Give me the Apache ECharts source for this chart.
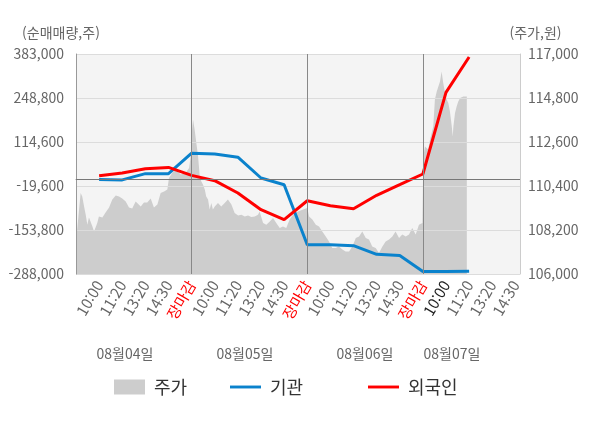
<!DOCTYPE html>
<html lang="ko">
<head>
<meta charset="utf-8">
<title>순매매량 / 주가</title>
<style>
  *{padding:0;margin:0;}
  html,body,#chart{width:600px;height:428px;background:#fff;}
</style>
</head>
<body>
<div id="chart"></div>
<script src="https://cdn.jsdelivr.net/npm/echarts@6/dist/echarts.min.js"></script>
<script>
// x축 슬롯 라벨 (슬롯 0 = 장시작)
var xLabels = ['', '10:00', '11:20', '13:20', '14:30', '장마감',
  '10:00', '11:20', '13:20', '14:30', '장마감',
  '10:00', '11:20', '13:20', '14:30', '장마감',
  '10:00', '11:20', '13:20', '14:30'];
var dayLabels = ['08월04일', '08월05일', '08월06일', '08월07일'];
var seriesNames = ['주가', '기관', '외국인'];
var closeSlots = [5, 10, 15];
var prevClose = 110750;

// 기관 / 외국인 누적 순매매량 (슬롯 1부터)
var institution = [0, -1000, 18000, 18000, 80500, 78000, 68200, 4800, -15600,
  -198600, -198500, -201700, -228000, -231300, -280500, -280500, -279500];
var foreign = [11800, 20000, 33200, 37100, 12700, -3400, -41000, -92000, -122400,
  -64500, -79700, -88800, -48000, -15600, 17000, 266000, 373900];

// 주가 (슬롯 위치, 가격)
var priceTime = [0, 0.06, 0.13, 0.20, 0.27, 0.35, 0.42, 0.49, 0.56, 0.63, 0.71, 0.78, 0.85, 0.92, 0.99,
  1.14, 1.28, 1.43, 1.57, 1.72, 1.86, 2.00, 2.15, 2.29, 2.43, 2.58, 2.65, 2.80, 2.94,
  3.08, 3.23, 3.37, 3.52, 3.66, 3.81, 3.95, 4.02, 4.16, 4.31, 4.53, 4.74, 4.89, 4.96,
  5.02, 5.06, 5.13, 5.20, 5.28, 5.35, 5.42, 5.49, 5.57, 5.63, 5.71, 5.78, 5.85, 5.92,
  6.00, 6.14, 6.28, 6.43, 6.57, 6.72, 6.86, 7.01, 7.15, 7.30, 7.44, 7.58, 7.73, 7.87, 7.94,
  8.09, 8.23, 8.38, 8.52, 8.66, 8.81, 8.95, 9.09, 9.24, 9.38, 9.60, 9.82,
  10.00, 10.08, 10.22, 10.37, 10.51, 10.65, 10.80, 10.94, 11.08, 11.23, 11.37, 11.52, 11.66, 11.81, 11.95,
  12.10, 12.24, 12.38, 12.53, 12.67, 12.81, 12.96, 13.10, 13.25, 13.39, 13.54, 13.68, 13.82, 13.97,
  14.11, 14.26, 14.40, 14.54, 14.69, 14.83, 14.98,
  15.02, 15.09, 15.17, 15.23, 15.31, 15.38, 15.45, 15.52, 15.60, 15.67, 15.74, 15.81, 15.88, 15.96,
  16.03, 16.10, 16.17, 16.25, 16.29, 16.32, 16.39, 16.46, 16.53, 16.61, 16.75, 16.90];
var priceValue = [107680, 108320, 108220, 110050, 109880, 109380, 108960, 108460, 108820, 108720, 108380, 108130, 108080, 108550, 108880,
  108820, 109070, 109320, 109720, 109920, 109880, 109770, 109630, 109320, 109270, 109630, 109720, 109380, 109580,
  109570, 109770, 109320, 109470, 110050, 110130, 110220, 110800, 111050, 111220, 110970, 111050, 111300, 111880,
  113220, 113720, 113220, 112570, 111880, 110880, 110630, 110470, 110220, 109880, 109720, 109220, 109550, 109220,
  109380, 109550, 109380, 109550, 109720, 109470, 109050, 108920, 108960, 108880, 108920, 108850, 108880, 108960, 109130,
  108550, 108460, 108630, 108800, 108550, 108300, 108380, 108300, 108720, 108960, 109130, 109220,
  109300, 108880, 108720, 108460, 108380, 108130, 107880, 107630, 107300, 107300, 107380, 107220, 107130, 107130, 107380,
  107800, 107880, 108130, 107800, 107720, 107380, 107300, 107050, 107380, 107630, 107720, 107880, 108130, 107800,
  107970, 107880, 107970, 108300, 107970, 108460, 108550,
  111880, 112380, 112470, 112220, 112720, 113050, 113380, 114720, 115130, 115220, 115630, 116130, 115550, 115050,
  114720, 114550, 114130, 113380, 112880, 113380, 114050, 114380, 114630, 114800, 114880, 114880];

var myChart = echarts.init(document.getElementById('chart'));
var FONT = 'Noto Sans CJK KR';
var LINE_ICON = 'path://M0,0H32V3H0Z';

var toPairs = function (vals, start) {
    return vals.map(function (v, i) { return [i + start, v]; });
};
var priceData = priceTime.map(function (t, i) { return [t, priceValue[i]]; });

var markData = closeSlots.map(function (s) {
    return { xAxis: s, lineStyle: { color: '#888', width: 1, type: 'solid' } };
});
markData.push({ yAxis: prevClose, lineStyle: { color: '#777', width: 1, type: 'solid' } });

var dayX = [125, 245, 365, 452];
var legendLeft = [109, 225, 363];
var legendIcons = ['rect', LINE_ICON, LINE_ICON];

var option = {
    animation: false,
    textStyle: { fontFamily: FONT },
    grid: {
        left: 76, right: 80, top: 54, bottom: 154,
        show: true, backgroundColor: '#f4f4f4', borderWidth: 0
    },
    legend: seriesNames.map(function (n, i) {
        return {
            left: legendLeft[i], top: 373,
            itemWidth: 31, itemHeight: 15,
            symbolKeepAspect: true,
            textStyle: { fontSize: 18, color: '#333', fontFamily: FONT, padding: [0, 0, 0, 4] },
            data: [{ name: n, icon: legendIcons[i] }]
        };
    }),
    xAxis: {
        type: 'value', min: 0, max: 19.2, interval: 1,
        axisLine: { lineStyle: { color: '#999' } },
        axisTick: { show: false },
        splitLine: { show: false },
        axisLabel: {
            rotate: 60, fontSize: 15, margin: 8, fontFamily: FONT,
            showMaxLabel: false,
            formatter: function (v) {
                return Number.isInteger(v) && xLabels[v] ? xLabels[v] : '';
            },
            color: function (v) {
                var s = xLabels[Math.round(v)];
                if (s === '장마감') return '#ff0000';
                if (Math.round(v) === 16) return '#222';
                return '#666';
            }
        }
    },
    yAxis: [{
        type: 'value', position: 'left', z: 3,
        min: -288000, max: 383000, interval: 134200,
        name: '(순매매량,주)', nameGap: 14,
        nameTextStyle: { color: '#666', fontSize: 14, fontFamily: FONT, padding: [0, 30, 0, 0] },
        axisLine: { show: true, lineStyle: { color: '#999' } },
        axisTick: { show: false },
        splitLine: { lineStyle: { color: '#dcdcdc' } },
        axisLabel: {
            color: '#666', fontSize: 14, margin: 12, fontFamily: FONT,
            formatter: function (v) { return echarts.format.addCommas(v); }
        }
    }, {
        type: 'value', position: 'right', z: 3,
        min: 106000, max: 117000, interval: 2200,
        name: '(주가,원)', nameGap: 14,
        nameTextStyle: { color: '#666', fontSize: 14, fontFamily: FONT, padding: [0, 0, 0, 31] },
        axisLine: { show: true, lineStyle: { color: '#ccc' } },
        axisTick: { show: false },
        splitLine: { show: false },
        axisLabel: {
            color: '#666', fontSize: 14, margin: 8, fontFamily: FONT,
            formatter: function (v) { return echarts.format.addCommas(v); }
        }
    }],
    graphic: dayLabels.map(function (t, i) {
        return {
            type: 'text', x: dayX[i], y: 354,
            style: {
                text: t, fill: '#666', fontSize: 14, fontFamily: FONT,
                textAlign: 'center', textVerticalAlign: 'middle'
            }
        };
    }),
    series: [{
        name: '주가', type: 'line', yAxisIndex: 1, z: 2,
        data: priceData,
        symbol: 'none',
        itemStyle: { color: '#cdcdcd' },
        lineStyle: { width: 0 },
        areaStyle: { color: '#cdcdcd', opacity: 1, origin: 'start' },
        markLine: {
            silent: true, symbol: 'none',
            label: { show: false },
            data: markData
        }
    }, {
        name: '기관', type: 'line', yAxisIndex: 0, z: 4,
        data: toPairs(institution, 1),
        symbol: 'none',
        itemStyle: { color: '#0a82cc' },
        lineStyle: { color: '#0a82cc', width: 3 }
    }, {
        name: '외국인', type: 'line', yAxisIndex: 0, z: 4,
        data: toPairs(foreign, 1),
        symbol: 'none',
        itemStyle: { color: '#ff0000' },
        lineStyle: { color: '#ff0000', width: 3 }
    }]
};
myChart.setOption(option);
</script>
</body>
</html>
